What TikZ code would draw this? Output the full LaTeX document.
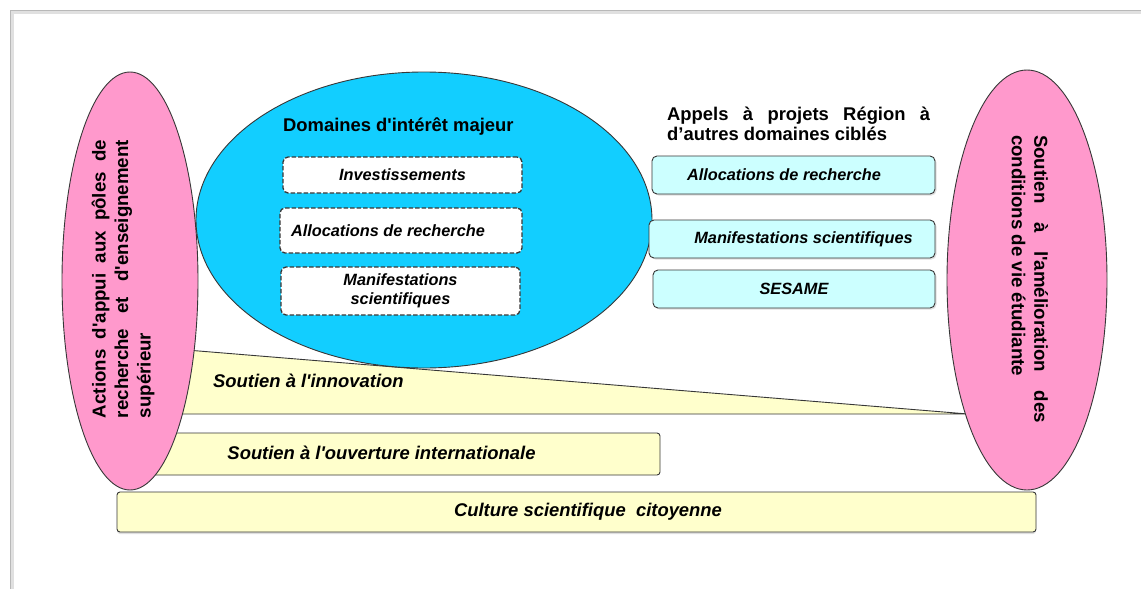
\documentclass[tikz,border=0pt]{standalone}
\usepackage{fontspec}
\newfontfamily\arialf{Liberation Sans}
\usetikzlibrary{shapes.geometric,shadows}
\definecolor{pinkc}{RGB}{255,153,204}
\definecolor{bluec}{RGB}{18,206,255}
\definecolor{cyanl}{RGB}{204,255,255}
\definecolor{yell}{RGB}{255,255,204}
\definecolor{edgec}{RGB}{55,55,55}
\tikzset{
  every node/.style={font=\arialf},
  pinkell/.style={ellipse, draw=edgec, line width=0.9pt, fill=pinkc, inner sep=0pt},
  blueell/.style={ellipse, draw=edgec, line width=0.9pt, fill=bluec, inner sep=0pt},
  dashbox/.style={draw=edgec, dash pattern=on 4.5pt off 2pt, line width=1.3pt, fill=white, rounded corners=5pt, inner sep=0pt, font=\arialf\bfseries\itshape\fontsize{16.3}{19.5}\selectfont, align=center},
  cyanbox/.style={draw=edgec, line width=0.9pt, fill=cyanl, rounded corners=5pt, inner sep=0pt, font=\arialf\bfseries\itshape\fontsize{16.3}{19.5}\selectfont, drop shadow={opacity=0.25, shadow xshift=1.5pt, shadow yshift=-1.5pt}},
  yelbox/.style={draw=edgec, line width=0.9pt, fill=yell, rounded corners=3pt, inner sep=0pt, font=\arialf\bfseries\itshape\fontsize{18.4}{20}\selectfont},
  lab/.style={inner sep=0pt, font=\arialf\bfseries\itshape\fontsize{18.4}{20}\selectfont},
  title/.style={inner sep=0pt, font=\arialf\bfseries\fontsize{18.4}{20}\selectfont, align=left},
  vtext/.style={inner sep=0pt, font=\arialf\bfseries\fontsize{18.7}{22.5}\selectfont, align=left},
}
\begin{document}
\begin{tikzpicture}[x=1pt,y=-1pt]
\useasboundingbox (0,0) rectangle (1141,589);
\fill[white] (0,0) rectangle (1141,589);
% page frame
\draw[black!12, line width=3pt] (12,589) -- (12,12) -- (1141,12);
\draw[black!28, line width=1pt] (10,589) -- (10,10) -- (1141,10);

% innovation wedge (behind ellipses)
\coordinate (wtl) at (150,347);
\coordinate (wtip) at (968,414);
\coordinate (wbl) at (150,414);
\draw[draw=edgec, line width=0.9pt, fill=yell] (wtl) -- (wtip) -- (wbl) -- cycle;
\node[lab, anchor=west] (innov) at (213,381) {Soutien à l'innovation};

% ouverture box
\node[yelbox, minimum width=510pt, minimum height=42pt] (ouvbox) at (405,454) {};
\node[lab] (ouvtxt) at (381.5,453) {Soutien à l'ouverture internationale};

% left ellipse
\node[pinkell, minimum width=136pt, minimum height=418pt] (leftell) at (130,281) {};
\node[vtext, rotate=90] (lefttxt) at (123,279) {\makebox[278pt][s]{Actions d'appui aux pôles de}\\\makebox[278pt][s]{recherche et d'enseignement}\\supérieur};

% right ellipse
\node[pinkell, minimum width=160pt, minimum height=420pt] (rightell) at (1027,280) {};
\node[vtext, rotate=-90] (righttxt) at (1030,279) {\makebox[288pt][s]{Soutien à l'amélioration des}\\conditions de vie étudiante};

% blue ellipse
\node[blueell, minimum width=456pt, minimum height=296pt] (blueell) at (424,220) {};
\node[title, anchor=west] (domt) at (283,127) {Domaines d'intérêt majeur};
\node[dashbox, minimum width=239pt, minimum height=36pt] (inv) at (402.5,175) {Investissements};
\node[dashbox, minimum width=242pt, minimum height=45pt] (alloc1) at (401,230.5) {\hspace*{-26pt}Allocations de recherche};
\node[dashbox, minimum width=239pt, minimum height=48pt] (manif1) at (400.5,291) {Manifestations\\scientifiques};

% right column
\node[title, anchor=north west] (appt) at (667,107) {\makebox[263pt][s]{Appels à projets Région à}\\d’autres domaines ciblés};
\node[cyanbox, minimum width=283pt, minimum height=38pt] (alloc2) at (793.5,175) {\hspace*{-19pt}Allocations de recherche};
\node[cyanbox, minimum width=286pt, minimum height=38pt] (manif2) at (792,239) {\hspace*{23pt}Manifestations scientifiques};
\node[cyanbox, minimum width=282pt, minimum height=38pt] (sesame) at (794,289) {SESAME};

% culture bar
\node[yelbox, minimum width=919pt, minimum height=40pt, drop shadow={opacity=0.25, shadow xshift=0pt, shadow yshift=-2pt}] (culture) at (576.5,512) {\hspace*{23pt}Culture scientifique\ \ citoyenne};
\end{tikzpicture}
\end{document}
